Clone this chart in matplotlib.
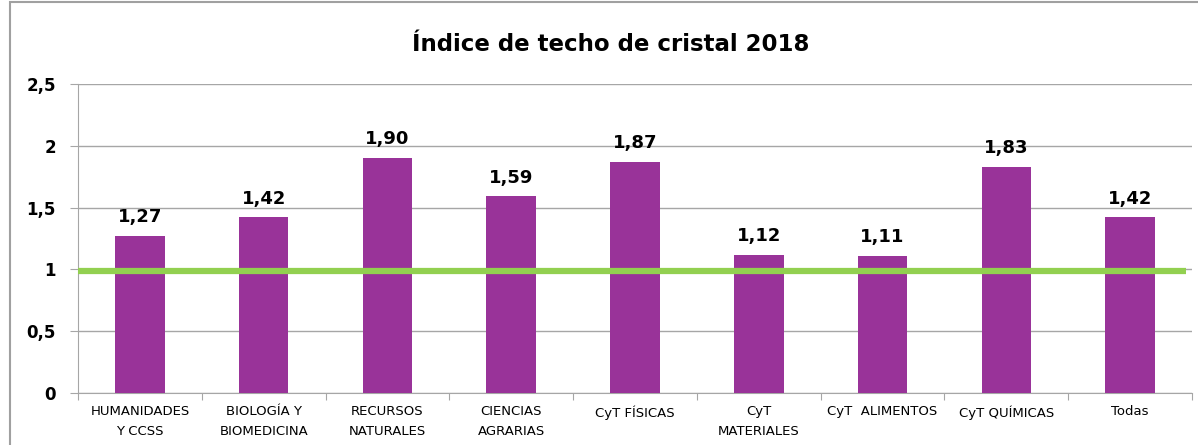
import matplotlib

matplotlib.use("Agg")
import matplotlib.pyplot as plt
from matplotlib.patches import Rectangle

categories = [
    "HUMANIDADES\nY CCSS",
    "BIOLOGÍA Y\nBIOMEDICINA",
    "RECURSOS\nNATURALES",
    "CIENCIAS\nAGRARIAS",
    "CyT FÍSICAS",
    "CyT\nMATERIALES",
    "CyT  ALIMENTOS",
    "CyT QUÍMICAS",
    "Todas",
]
values = [1.27, 1.42, 1.90, 1.59, 1.87, 1.12, 1.11, 1.83, 1.42]
reference = 0.99
y_ticks = [0, 0.5, 1, 1.5, 2, 2.5]
y_tick_labels = ["0", "0,5", "1", "1,5", "2", "2,5"]

BAR_COLOR = "#993399"
LINE_COLOR = "#92D050"
GRID_COLOR = "#A6A6A6"

plt.rcParams["font.family"] = ["DejaVu Sans"]

fig = plt.figure(figsize=(11.98, 4.45), dpi=100)
ax = fig.add_axes([0.0651, 0.1169, 0.9299, 0.6943])

x = list(range(len(categories)))
ax.bar(x, values, width=0.4, color=BAR_COLOR, zorder=3)
ax.plot([-0.5, len(categories) - 0.55], [reference, reference], color=LINE_COLOR, lw=4.5,
        solid_capstyle="butt", zorder=4)

for xi, v in zip(x, values):
    ax.annotate(f"{v:.2f}".replace(".", ","), (xi, v), xytext=(0, 7), textcoords="offset points",
                ha="center", va="bottom", fontsize=13, fontweight="bold", color="black")

ax.set_xlim(-0.5, len(categories) - 0.5)
ax.set_ylim(0, 2.5)
ax.set_yticks(y_ticks)
ax.set_yticklabels(y_tick_labels, fontsize=12, fontweight="bold")
ax.yaxis.grid(True, color=GRID_COLOR, lw=1, zorder=0)
ax.tick_params(axis="y", length=6, color=GRID_COLOR, pad=10)

# category boundaries as ticks, labels in between
ax.set_xticks([i - 0.5 for i in range(len(categories) + 1)])
ax.set_xticklabels([])
ax.set_xticks(x, minor=True)
ax.set_xticklabels(categories, minor=True, fontsize=9.5, va="top", linespacing=1.65)
ax.tick_params(axis="x", which="major", length=5, color=GRID_COLOR)
ax.tick_params(axis="x", which="minor", length=0, pad=9)

for side in ["top", "right"]:
    ax.spines[side].set_visible(False)
for side in ["left", "bottom"]:
    ax.spines[side].set_color(GRID_COLOR)

fig.text(0.51, 0.90, "Índice de techo de cristal 2018", ha="center", va="center",
         fontsize=16.5, fontweight="bold")

# chart area frame
fig.patches.append(Rectangle((10 / 1198, -0.1), 1.2, 1.1 - 2.5 / 445, transform=fig.transFigure,
                             fill=False, edgecolor="#A0A0A0", lw=1.5))

fig.savefig("out.png", dpi=100)
